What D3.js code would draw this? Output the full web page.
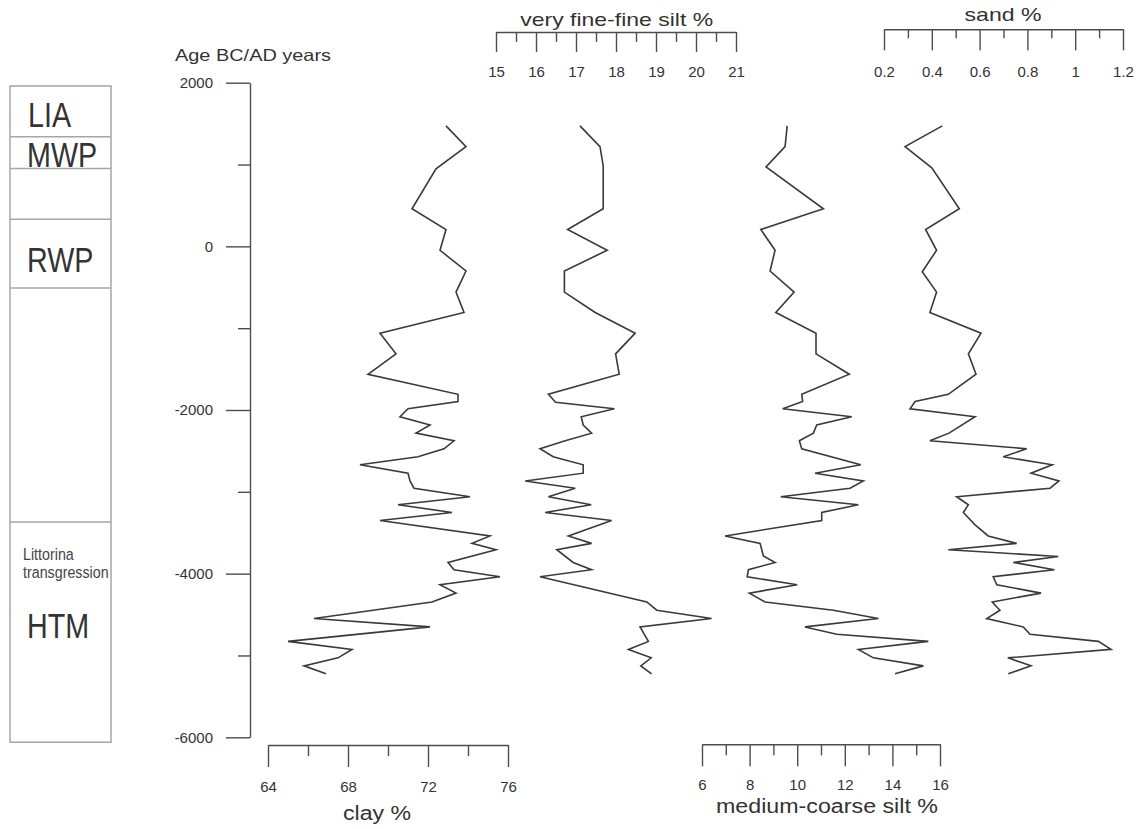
<!DOCTYPE html>
<html><head><meta charset="utf-8">
<script src="https://cdn.jsdelivr.net/npm/d3@7"></script>
<style>body{margin:0;background:#fff}</style>
</head><body><svg id="c" width="1144" height="829"></svg>
<script>
// ---- data ----
const ageMajor = [2000, 0, -2000, -4000, -6000];
const ageMinor = [1000, -1000, -3000, -5000];

const clayTicks = [64, 68, 72, 76];
const clayMinor = [66, 70, 74];
const vffTicks = [15, 16, 17, 18, 19, 20, 21];
const vffMinor = [15.5, 16.5, 17.5, 18.5, 19.5, 20.5];
const mcTicks = [6, 8, 10, 12, 14, 16];
const mcMinor = [7, 9, 11, 13, 15];
const sandTicks = [0.2, 0.4, 0.6, 0.8, 1.0, 1.2];
const sandMinor = [0.3, 0.5, 0.7, 0.9, 1.1];

const clayAge = [1472,1219,948,459,206,-48,-301,-559,-808,-1061,-1314,-1563,-1808,-1896,-1985,-2083,-2183,-2283,-2376,-2474,-2572,-2669,-2772,-2867,-2956,-3060,-3158,-3252,-3351,-3539,-3630,-3708,-3863,-3952,-4038,-4136,-4238,-4346,-4549,-4651,-4828,-4926,-5029,-5127,-5224];
const clayVal = [72.9,73.9,72.4,71.2,72.9,72.6,73.9,73.4,73.8,69.6,70.4,69.0,73.5,73.5,71.0,70.6,72.1,71.4,73.3,72.8,71.5,68.6,71.0,71.1,71.3,74.1,70.5,73.2,69.6,75.1,74.2,75.4,73.0,73.3,75.6,72.6,73.4,72.2,66.3,72.1,65.0,68.2,67.5,65.8,66.9];

const vffAge = [1472,1219,983,459,206,-48,-301,-559,-808,-1061,-1314,-1563,-1808,-1906,-1985,-2083,-2183,-2283,-2376,-2474,-2572,-2669,-2772,-2867,-2956,-3060,-3158,-3252,-3351,-3539,-3630,-3708,-3863,-3952,-4038,-4346,-4447,-4549,-4651,-4828,-4926,-5029,-5127,-5224];
const vffVal = [17.1,17.6,17.68,17.68,16.79,17.78,16.71,16.71,17.48,18.48,17.99,18.08,16.31,16.49,17.96,17.13,17.18,17.39,16.73,16.1,16.43,17.18,17.18,15.73,16.98,16.31,17.38,16.23,17.89,16.81,17.39,16.52,16.93,17.39,16.1,18.77,19.02,20.39,18.6,18.81,18.31,18.88,18.62,18.89];

const mcAge = [1472,1219,970,459,206,-48,-301,-559,-808,-1061,-1314,-1563,-1808,-1896,-1985,-2083,-2183,-2283,-2376,-2474,-2669,-2772,-2867,-2956,-3060,-3158,-3252,-3351,-3539,-3630,-3784,-3863,-3952,-4038,-4136,-4238,-4346,-4447,-4549,-4651,-4741,-4828,-4926,-5029,-5127,-5224];
const mcVal = [9.58,9.49,8.69,11.1,8.47,9.07,8.86,9.87,9.1,10.79,10.79,12.19,10.19,10.23,9.39,12.29,10.82,10.68,10.09,10.19,12.67,10.75,12.78,12.22,9.31,12.57,11.03,11.03,6.97,8.44,8.58,9.07,7.95,7.9,10.0,7.99,8.65,11.52,13.41,10.33,11.66,15.51,12.57,13.2,15.3,14.11];

const sandAge = [1472,1219,960,459,206,-48,-311,-559,-808,-1061,-1314,-1563,-1808,-1896,-1985,-2083,-2283,-2376,-2474,-2572,-2669,-2772,-2867,-2956,-3060,-3158,-3252,-3400,-3539,-3630,-3708,-3790,-3863,-3952,-4038,-4136,-4238,-4346,-4447,-4549,-4651,-4741,-4828,-4926,-5029,-5127,-5224];
const sandVal = [0.444,0.288,0.40,0.515,0.374,0.42,0.36,0.42,0.392,0.606,0.553,0.585,0.469,0.33,0.309,0.581,0.472,0.392,0.797,0.699,0.904,0.815,0.932,0.895,0.504,0.553,0.532,0.58,0.636,0.755,0.469,0.929,0.741,0.913,0.657,0.672,0.857,0.653,0.685,0.63,0.783,0.811,1.097,1.15,0.718,0.815,0.72];

const periodBounds = [1960, 1340, 950, 330, -510, -3370, -6060];
const periodNames = ["LIA", "MWP", "", "RWP", "", "HTM"];
const htmNote = ["Littorina", "transgression"];

// ---- drawing ----
const svg = d3.select('#c');
const FONT = '"Liberation Sans", Arial, Helvetica, sans-serif';
const AX = '#4d4d4d', TXT = '#333';

const y = d3.scaleLinear().domain([-6000, 2000]).range([737.3, 82.7]);
const xClay = d3.scaleLinear().domain([64, 76]).range([268, 508]);
const xVff = d3.scaleLinear().domain([15, 21]).range([496, 736]);
const xMc = d3.scaleLinear().domain([6, 16]).range([702, 940]);
const xSand = d3.scaleLinear().domain([0.2, 1.2]).range([884, 1123]);

function style(g, keepDomain) {
  g.selectAll('path.domain').attr('stroke', AX).attr('stroke-width', 1.4);
  if (!keepDomain) g.selectAll('path.domain').remove();
  g.selectAll('.tick line').attr('stroke', AX).attr('stroke-width', 1.4);
  g.selectAll('text').attr('fill', TXT).attr('font-size', 15).attr('font-family', FONT);
}

// left age axis
const gA = svg.append('g').attr('transform', 'translate(250,0)')
  .call(d3.axisLeft(y).tickValues(ageMajor).tickSize(24).tickSizeOuter(0).tickPadding(13).tickFormat(d => String(d)));
style(gA, true);
const gA2 = svg.append('g').attr('transform', 'translate(250,0)')
  .call(d3.axisLeft(y).tickValues(ageMinor).tickSize(12).tickSizeOuter(0).tickFormat(''));
style(gA2, false);

function hAxis(scale, major, minor, ty, majLen, minLen, pad, fmt) {
  const g = svg.append('g').attr('transform', `translate(0,${ty})`)
    .call(d3.axisBottom(scale).tickValues(major).tickSize(majLen).tickSizeOuter(0).tickPadding(pad).tickFormat(fmt));
  style(g, true);
  const g2 = svg.append('g').attr('transform', `translate(0,${ty})`)
    .call(d3.axisBottom(scale).tickValues(minor).tickSize(minLen).tickSizeOuter(0).tickFormat(''));
  style(g2, false);
}
hAxis(xClay, clayTicks, clayMinor, 745, 22, 11, 14, d => String(d));
hAxis(xMc, mcTicks, mcMinor, 744.3, 22, 11, 13, d => String(d));
hAxis(xVff, vffTicks, vffMinor, 32, 20, 10, 14.5, d => String(d));
hAxis(xSand, sandTicks, sandMinor, 29.3, 21, 9, 16, d => String(+d.toFixed(1)));

// titles
function title(txt, x, yb, size, len, anchor) {
  svg.append('text').attr('x', x).attr('y', yb).attr('text-anchor', anchor || 'middle')
    .attr('font-family', FONT).attr('font-size', size).attr('fill', TXT)
    .attr('textLength', len).attr('lengthAdjust', 'spacingAndGlyphs').text(txt);
}
title('Age BC/AD years', 175, 61, 16.5, 156, 'start');
title('very fine-fine silt %', 616.7, 26, 19, 193);
title('sand %', 1003, 21, 19, 77);
title('clay %', 377, 820, 20, 68);
title('medium-coarse silt %', 827, 813, 20, 222);

// curves
function curve(scale, ages, vals) {
  svg.append('path')
    .datum(ages.map((a, i) => [a, vals[i]]))
    .attr('d', d3.line().x(d => scale(d[1])).y(d => y(d[0])))
    .attr('fill', 'none').attr('stroke', '#3a3a3a').attr('stroke-width', 1.6);
}
curve(xClay, clayAge, clayVal);
curve(xVff, vffAge, vffVal);
curve(xMc, mcAge, mcVal);
curve(xSand, sandAge, sandVal);

// period column
const BX0 = 10, BX1 = 111;
const gp = svg.append('g');
gp.append('rect').attr('x', BX0).attr('y', y(periodBounds[0]))
  .attr('width', BX1 - BX0).attr('height', y(periodBounds[periodBounds.length - 1]) - y(periodBounds[0]))
  .attr('fill', 'none').attr('stroke', '#a6a6a6').attr('stroke-width', 1.5);
gp.selectAll('line.b').data(periodBounds.slice(1, -1)).enter().append('line')
  .attr('x1', BX0).attr('x2', BX1).attr('y1', d => y(d)).attr('y2', d => y(d))
  .attr('stroke', '#a6a6a6').attr('stroke-width', 1.5);

// condensed labels (horizontal scale emulates a narrow face)
const labelPos = [[28, 127], [27, 167], null, [27, 272], null, [27, 638]];
periodNames.forEach((n, i) => {
  if (!n) return;
  gp.append('text').attr('transform', `translate(${labelPos[i][0]},${labelPos[i][1]}) scale(0.82,1)`)
    .attr('font-family', FONT).attr('font-size', 35).attr('fill', '#333').text(n);
});
htmNote.forEach((t, i) => {
  gp.append('text').attr('transform', `translate(23,${560 + i * 18}) scale(0.84,1)`)
    .attr('font-family', FONT).attr('font-size', 17).attr('fill', '#444').text(t);
});
</script></body></html>
